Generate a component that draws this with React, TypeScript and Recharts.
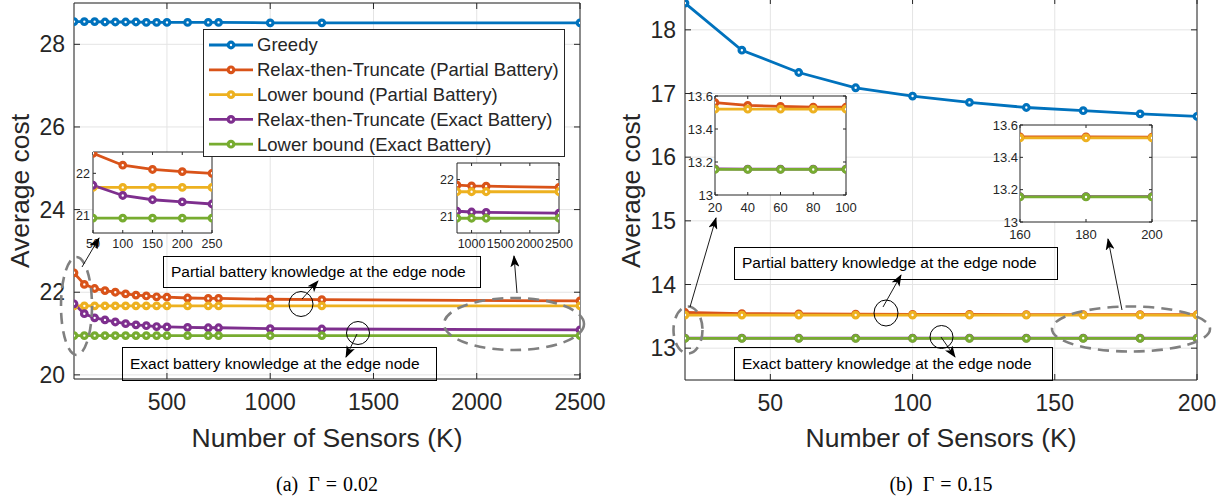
import React from 'react';
import { CartesianGrid, Line, LineChart, XAxis, YAxis } from 'recharts';

const FONT = '"Liberation Sans", Arial, Helvetica, sans-serif';
const SERIF = '"Liberation Serif", "Times New Roman", serif';
const INK = '#262626';

const seriesNames = [
    'Greedy',
    'Relax-then-Truncate (Partial Battery)',
    'Lower bound (Partial Battery)',
    'Relax-then-Truncate (Exact Battery)',
    'Lower bound (Exact Battery)',
];
const seriesColors = ['#0072BD', '#D95319', '#EDB120', '#7E2F8E', '#77AC30'];

// (a) Gamma = 0.02
const sensorsA = [50, 100, 150, 200, 250, 300, 350, 400, 450, 500, 600, 700, 750, 1000, 1250, 2500];
const greedyA = [28.55, 28.55, 28.55, 28.54, 28.54, 28.54, 28.54, 28.53, 28.53, 28.53, 28.53, 28.53, 28.53, 28.52, 28.52, 28.52];
const rttPartialA = [22.47, 22.19, 22.09, 22.04, 22.0, 21.96, 21.93, 21.91, 21.89, 21.88, 21.86, 21.85, 21.85, 21.83, 21.82, 21.79];
const lbPartialA = [21.67, 21.67, 21.67, 21.67, 21.67, 21.67, 21.67, 21.67, 21.67, 21.67, 21.67, 21.67, 21.67, 21.67, 21.67, 21.67];
const rttExactA = [21.72, 21.48, 21.38, 21.33, 21.28, 21.24, 21.21, 21.19, 21.17, 21.16, 21.15, 21.14, 21.14, 21.12, 21.11, 21.09];
const lbExactA = [20.95, 20.95, 20.95, 20.95, 20.95, 20.95, 20.95, 20.95, 20.95, 20.95, 20.95, 20.95, 20.95, 20.95, 20.95, 20.95];
const xTicksA = [500, 1000, 1500, 2000, 2500];
const yTicksA = [20, 22, 24, 26, 28];

// (b) Gamma = 0.15
const sensorsB = [20, 40, 60, 80, 100, 120, 140, 160, 180, 200];
const greedyB = [18.42, 17.68, 17.33, 17.09, 16.96, 16.86, 16.78, 16.73, 16.68, 16.64];
const rttPartialB = [13.56, 13.543, 13.537, 13.533, 13.532, 13.53, 13.528, 13.527, 13.526, 13.525];
const lbPartialB = [13.52, 13.52, 13.52, 13.52, 13.52, 13.52, 13.52, 13.52, 13.52, 13.52];
const rttExactB = [13.158, 13.157, 13.157, 13.157, 13.157, 13.157, 13.157, 13.157, 13.157, 13.157];
const lbExactB = [13.155, 13.155, 13.155, 13.155, 13.155, 13.155, 13.155, 13.155, 13.155, 13.155];
const xTicksB = [50, 100, 150, 200];
const yTicksB = [13, 14, 15, 16, 17, 18];

const toRows = (xs: number[], cols: number[][]) =>
    xs.map((k, i) => {
        const row: any = { k };
        cols.forEach((c, j) => (row['s' + j] = c[i]));
        return row;
    });

const rowsA = toRows(sensorsA, [greedyA, rttPartialA, lbPartialA, rttExactA, lbExactA]);
const rowsB = toRows(sensorsB, [greedyB, rttPartialB, lbPartialB, rttExactB, lbExactB]);

interface PanelProps {
    left: number;
    top: number;
    w: number;
    h: number;
    rows: any[];
    keys: number[];
    xDomain: [number, number];
    yDomain: [number, number];
    xTicks: number[];
    yTicks: number[];
    fontSize: number;
    yw: number;
    xh: number;
    mr: number;
    mt: number;
    tickLen: number;
    xGap: number;
    yGap: number;
    grid?: boolean;
    fill?: boolean;
}

// one MATLAB-style axes box: ticks pointing inward on all four sides
const Panel = (p: PanelProps) => {
    const width = p.yw + p.w + 1 + p.mr;
    const height = p.mt + 1 + p.h + p.xh;
    const tickStyle = { fontSize: p.fontSize, fontFamily: FONT, fill: INK };
    const blank = () => '';
    return (
        <div style={{ position: 'absolute', left: p.left - p.yw, top: p.top - 1 - p.mt, width, height }}>
            {p.fill && (
                <div style={{ position: 'absolute', left: p.yw, top: p.mt + 1, width: p.w, height: p.h, background: '#fff' }} />
            )}
            <div style={{ position: 'absolute', left: 0, top: 0 }}>
                <LineChart width={width} height={height} data={p.rows} margin={{ top: p.mt, right: p.mr, bottom: 0, left: 0 }}>
                    {p.grid && <CartesianGrid xAxisId="b" yAxisId="l" stroke="#e4e4e4" strokeWidth={1} />}
                    <XAxis xAxisId="b" dataKey="k" type="number" domain={p.xDomain} ticks={p.xTicks} interval={0}
                        allowDataOverflow height={p.xh} tickSize={-p.tickLen} tickMargin={p.tickLen + p.xGap}
                        tick={tickStyle} stroke={INK} />
                    <XAxis xAxisId="t" orientation="top" dataKey="k" type="number" domain={p.xDomain} ticks={p.xTicks}
                        interval={0} allowDataOverflow height={1} tickSize={-p.tickLen} tickFormatter={blank} stroke={INK} />
                    <YAxis yAxisId="l" type="number" domain={p.yDomain} ticks={p.yTicks} interval={0} allowDataOverflow
                        width={p.yw} tickSize={-p.tickLen} tickMargin={p.tickLen + p.yGap} tick={tickStyle} stroke={INK} />
                    <YAxis yAxisId="r" orientation="right" type="number" domain={p.yDomain} ticks={p.yTicks} interval={0}
                        allowDataOverflow width={1} tickSize={-p.tickLen} tickFormatter={blank} stroke={INK} />
                    {p.keys.map(i => (
                        <Line
                            key={i}
                            xAxisId="b"
                            yAxisId="l"
                            type="linear"
                            dataKey={'s' + i}
                            stroke={seriesColors[i]}
                            strokeWidth={2.8}
                            dot={{ r: 2.8, fill: '#fff', stroke: seriesColors[i], strokeWidth: 3.2 }}
                            activeDot={false}
                            isAnimationActive={false}
                        />
                    ))}
                </LineChart>
            </div>
        </div>
    );
};

const Legend = () => (
    <svg width={362} height={128} style={{ position: 'absolute', left: 203, top: 29 }}>
        <rect x={0.5} y={0.5} width={361} height={127} fill="#fff" stroke={INK} strokeWidth={1} />
        {seriesNames.map((name, i) => {
            const y = 16 + i * 24.8;
            return (
                <g key={name}>
                    <line x1={6} x2={50} y1={y} y2={y} stroke={seriesColors[i]} strokeWidth={2.8} />
                    <circle cx={28} cy={y} r={2.8} fill="#fff" stroke={seriesColors[i]} strokeWidth={3.2} />
                    <text x={54} y={y} dy="0.35em" fontSize={18.5} fontFamily={FONT} fill={INK}>{name}</text>
                </g>
            );
        })}
    </svg>
);

const textBoxes = [
    { x: 163, y: 256, w: 317, h: 31, label: 'Partial battery knowledge at the edge node' },
    { x: 122, y: 347, w: 314, h: 33, label: 'Exact battery knowledge at the edge node' },
    { x: 734, y: 247, w: 323, h: 32, label: 'Partial battery knowledge at the edge node' },
    { x: 734, y: 347, w: 318, h: 33, label: 'Exact battery knowledge at the edge node' },
];
const circles = [
    { cx: 301, cy: 304, rx: 12, ry: 12.5 },
    { cx: 358, cy: 333, rx: 11.5, ry: 11.5 },
    { cx: 886, cy: 313, rx: 12, ry: 13 },
    { cx: 941.5, cy: 337, rx: 11.5, ry: 11.5 },
];
const dashedEllipses = [
    { cx: 76.5, cy: 306, rx: 15.5, ry: 49 },
    { cx: 514, cy: 324, rx: 70, ry: 26 },
    { cx: 688, cy: 330, rx: 14.5, ry: 23.5 },
    { cx: 1131, cy: 329, rx: 79, ry: 22.5 },
];
const arrows = [
    [82, 267, 99, 238],
    [302, 299, 318, 281],
    [357, 334, 346, 357],
    [517, 293, 514, 256],
    [690, 307, 716, 218],
    [883, 307, 901, 275],
    [941, 337, 955, 357],
    [1122, 310, 1108, 239],
];

const Caption = ({ x, tag, value }: { x: number; tag: string; value: string }) => (
    <text x={x} y={491} textAnchor="middle" fontSize={20} fontFamily={SERIF} fill="#000">
        <tspan>{tag}</tspan>
        <tspan dx={10}>Γ</tspan>
        <tspan dx={6}>=</tspan>
        <tspan dx={6}>{value}</tspan>
    </text>
);

const Overlay = () => (
    <svg width={1229} height={503} style={{ position: 'absolute', left: 0, top: 0, pointerEvents: 'none' }}>
        <defs>
            <marker id="head" markerWidth={12} markerHeight={9} refX={11} refY={4.5} orient="auto" markerUnits="userSpaceOnUse">
                <path d="M0,0 L12,4.5 L0,9 L3,4.5 Z" fill="#000" />
            </marker>
        </defs>
        {dashedEllipses.map((e, i) => (
            <ellipse key={'e' + i} cx={e.cx} cy={e.cy} rx={e.rx} ry={e.ry} fill="none" stroke="#808080"
                strokeWidth={2.6} strokeDasharray="11 7" />
        ))}
        {circles.map((c, i) => (
            <ellipse key={'c' + i} cx={c.cx} cy={c.cy} rx={c.rx} ry={c.ry} fill="none" stroke="#000" strokeWidth={1} />
        ))}
        {arrows.map((a, i) => (
            <line key={'a' + i} x1={a[0]} y1={a[1]} x2={a[2]} y2={a[3]} stroke="#000" strokeWidth={0.9} markerEnd="url(#head)" />
        ))}
        {textBoxes.map((b, i) => (
            <g key={'b' + i}>
                <rect x={b.x + 0.5} y={b.y + 0.5} width={b.w} height={b.h} fill="none" stroke="#000" strokeWidth={1} />
                <text x={b.x + 8} y={b.y + b.h / 2} dy="0.35em" fontSize={15.5} fontFamily={FONT} fill="#000">{b.label}</text>
            </g>
        ))}
        <text transform="translate(28.5,191) rotate(-90)" textAnchor="middle" fontSize={26.5} fontFamily={FONT} fill={INK}>Average cost</text>
        <text transform="translate(640,191) rotate(-90)" textAnchor="middle" fontSize={26.5} fontFamily={FONT} fill={INK}>Average cost</text>
        <text x={327} y={447} textAnchor="middle" fontSize={26.5} fontFamily={FONT} fill={INK}>Number of Sensors (K)</text>
        <text x={941} y={447} textAnchor="middle" fontSize={26.5} fontFamily={FONT} fill={INK}>Number of Sensors (K)</text>
        <Caption x={327} tag="(a)" value="0.02" />
        <Caption x={941} tag="(b)" value="0.15" />
    </svg>
);

const App = () => {
    const lower = [1, 2, 3, 4];
    const all = [0, 1, 2, 3, 4];
    return (
        <div style={{ position: 'absolute', left: 0, top: 0, width: 1229, height: 503, background: '#fff', overflow: 'hidden' }}>
            <Panel left={74} top={3} w={506} h={376} rows={rowsA} keys={all} xDomain={[50, 2500]} yDomain={[19.9, 29]}
                xTicks={xTicksA} yTicks={yTicksA} fontSize={23} yw={74} xh={41} mr={34} mt={0} tickLen={6} xGap={15} yGap={9} grid />
            <Panel left={685} top={-2} w={512} h={382} rows={rowsB} keys={all} xDomain={[20, 200]} yDomain={[12.5, 18.5]}
                xTicks={xTicksB} yTicks={yTicksB} fontSize={23} yw={85} xh={41} mr={31} mt={0} tickLen={6} xGap={15} yGap={9} grid />

            <Panel left={93} top={152} w={119} h={81} rows={rowsA.slice(0, 5)} keys={lower} xDomain={[50, 250]}
                yDomain={[20.6, 22.5]} xTicks={[50, 100, 150, 200, 250]} yTicks={[21, 22]} fontSize={12.5}
                yw={24} xh={24} mr={16} mt={8} tickLen={3} xGap={6} yGap={3} fill />
            <Panel left={457} top={163} w={102} h={70} rows={rowsA.slice(12)} keys={lower} xDomain={[750, 2500]}
                yDomain={[20.55, 22.45]} xTicks={[1000, 1500, 2000, 2500]} yTicks={[21, 22]} fontSize={12.5}
                yw={24} xh={24} mr={16} mt={8} tickLen={3} xGap={6} yGap={3} fill />
            <Panel left={715} top={96} w={131} h={99} rows={rowsB.slice(0, 5)} keys={lower} xDomain={[20, 100]}
                yDomain={[13, 13.6]} xTicks={[20, 40, 60, 80, 100]} yTicks={[13, 13.2, 13.4, 13.6]} fontSize={13}
                yw={32} xh={26} mr={14} mt={10} tickLen={3} xGap={8} yGap={2} fill />
            <Panel left={1020} top={125} w={132} h={97} rows={rowsB.slice(7)} keys={lower} xDomain={[160, 200]}
                yDomain={[13, 13.6]} xTicks={[160, 180, 200]} yTicks={[13, 13.2, 13.4, 13.6]} fontSize={13}
                yw={32} xh={26} mr={14} mt={10} tickLen={3} xGap={8} yGap={2} fill />

            <Legend />
            <Overlay />
        </div>
    );
};

export default App;
